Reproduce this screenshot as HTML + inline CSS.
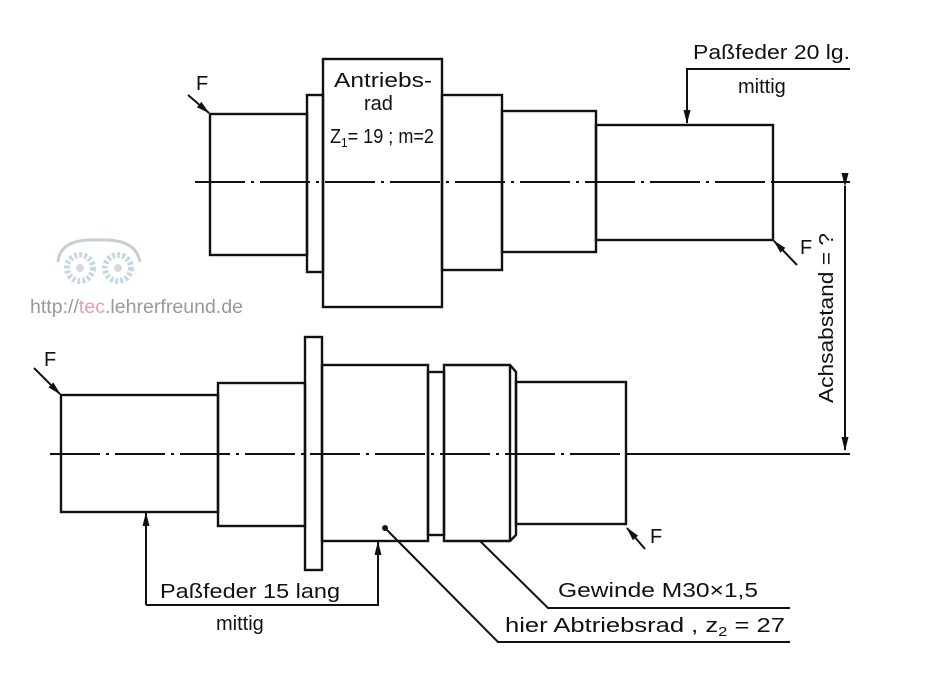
<!DOCTYPE html>
<html><head><meta charset="utf-8"><style>
html,body{margin:0;padding:0;background:#fff;width:940px;height:695px;overflow:hidden}
svg{display:block}
.t{font-family:"Liberation Sans",sans-serif;fill:#111}
</style></head><body>
<svg width="940" height="695" viewBox="0 0 940 695" xmlns="http://www.w3.org/2000/svg">
<defs>
<marker id="a" markerWidth="14" markerHeight="10" refX="13" refY="5" orient="auto" markerUnits="userSpaceOnUse">
<path d="M0,1.5 L14,5 L0,8.5 Z" fill="#111"/></marker>
</defs>
<!-- watermark -->
<g opacity="0.55">
<path d="M58,262 Q60,238 98,240 Q136,238 140,262" fill="none" stroke="#9aa" stroke-width="3"/>
<circle cx="80" cy="268" r="13" fill="none" stroke="#9bc" stroke-width="6" stroke-dasharray="3 2"/>
<circle cx="118" cy="268" r="13" fill="none" stroke="#9bc" stroke-width="6" stroke-dasharray="3 2"/>
<circle cx="80" cy="268" r="4" fill="#bbb"/><circle cx="118" cy="268" r="4" fill="#bbb"/>
</g>
<text x="30" y="313" class="t" style="fill:#999;font-size:19px" textLength="213" lengthAdjust="spacingAndGlyphs">http://<tspan style="fill:#e9a">tec</tspan>.lehrerfreund.de</text>

<g fill="none" stroke="#111" stroke-width="2.4">
<!-- top shaft -->
<rect x="210" y="114" width="97" height="141"/>
<rect x="307" y="95" width="16" height="177"/>
<rect x="323" y="59" width="119" height="248"/>
<rect x="442" y="95" width="60" height="175"/>
<rect x="502" y="111" width="94" height="141"/>
<rect x="596" y="125" width="177" height="115"/>
<!-- bottom shaft -->
<rect x="61" y="395" width="157" height="117"/>
<rect x="218" y="383" width="87" height="143"/>
<rect x="305" y="337" width="17" height="233"/>
<rect x="322" y="365" width="106" height="176"/>
<rect x="428" y="372" width="16" height="163"/>
<path d="M444,365 H510 L516,372 V535 L510,541 H444 Z M510,365 V541"/>
<rect x="516" y="382" width="110" height="142"/>
</g>
<!-- centerlines -->
<g stroke="#111" stroke-width="2" stroke-dasharray="50 6 3 6">
<line x1="195" y1="182" x2="773" y2="182"/>
<line x1="50" y1="454" x2="626" y2="454"/>
</g>
<g stroke="#111" stroke-width="2" fill="none">
<line x1="773" y1="182" x2="850" y2="182"/>
<line x1="626" y1="454" x2="850" y2="454"/>
<line x1="845" y1="186" x2="845" y2="450" marker-start="url(#a)" marker-end="url(#a)"/>
<!-- F arrows -->
<line x1="188" y1="95" x2="209" y2="113" marker-end="url(#a)"/>
<line x1="797" y1="265" x2="774" y2="241" marker-end="url(#a)"/>
<line x1="34" y1="368" x2="60" y2="394" marker-end="url(#a)"/>
<line x1="645" y1="549" x2="627" y2="528" marker-end="url(#a)"/>
<!-- Passfeder top -->
<polyline points="850,69 687,69 687,123" marker-end="url(#a)"/>
<!-- Passfeder bottom -->
<polyline points="146,605 146,513" marker-end="url(#a)"/>
<polyline points="146,605 378,605 378,542" marker-end="url(#a)"/>
<!-- Gewinde -->
<polyline points="480,541 548,608 790,608"/>
<polyline points="385,528 498,642 790,642"/>
</g>
<circle cx="385" cy="528" r="3" fill="#111"/>
<!-- text -->
<g class="t" style="font-size:20px">
<text x="196" y="90">F</text>
<text x="800" y="254">F</text>
<text x="44" y="366">F</text>
<text x="650" y="543">F</text>
<text x="334" y="87" textLength="98" lengthAdjust="spacingAndGlyphs">Antriebs-</text>
<text x="364" y="110">rad</text>
<text x="330" y="143" textLength="104" lengthAdjust="spacingAndGlyphs">Z<tspan style="font-size:13px" dy="4">1</tspan><tspan dy="-4">= 19 ; m=2</tspan></text>
<text x="693" y="59" textLength="157" lengthAdjust="spacingAndGlyphs">Paßfeder 20 lg.</text>
<text x="738" y="93">mittig</text>
<text x="160" y="598" textLength="180" lengthAdjust="spacingAndGlyphs">Paßfeder 15 lang</text>
<text x="216" y="630">mittig</text>
<text x="558" y="597" textLength="200" lengthAdjust="spacingAndGlyphs">Gewinde M30×1,5</text>
<text x="505" y="632" textLength="280" lengthAdjust="spacingAndGlyphs">hier Abtriebsrad , z<tspan style="font-size:13px" dy="4">2</tspan><tspan dy="-4"> = 27</tspan></text>
<text transform="translate(833,318) rotate(-90)" text-anchor="middle" textLength="170" lengthAdjust="spacingAndGlyphs">Achsabstand = ?</text>
</g>
</svg>
</body></html>
